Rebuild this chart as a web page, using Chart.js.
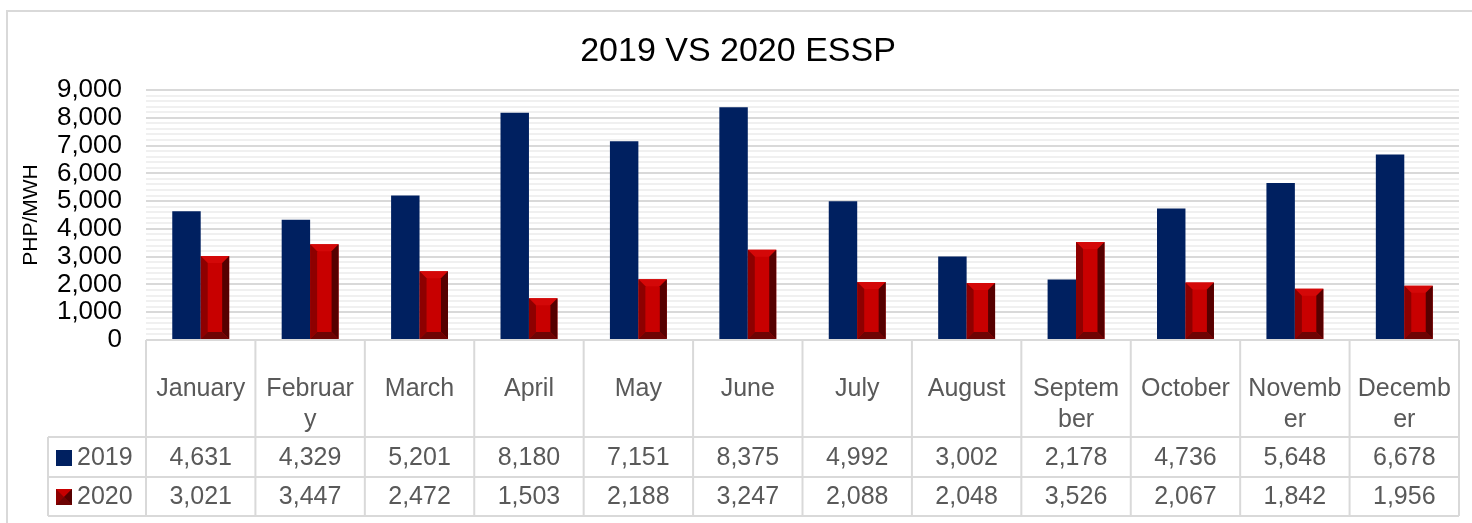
<!DOCTYPE html>
<html>
<head>
<meta charset="utf-8">
<title>2019 VS 2020 ESSP</title>
<script src="https://cdn.jsdelivr.net/npm/chart.js@4.4.1/dist/chart.umd.min.js"></script>
<style>
  html, body { margin: 0; padding: 0; background: #fff; }
  #wrap { width: 1472px; height: 523px; position: relative; }
</style>
</head>
<body>
<div id="wrap"><canvas id="esspChart" width="1472" height="523"></canvas></div>
<script>
// chart data
const monthLabels = [
  ["January"], ["Februar", "y"], ["March"], ["April"], ["May"], ["June"],
  ["July"], ["August"], ["Septem", "ber"], ["October"], ["Novemb", "er"], ["Decemb", "er"]
];
const seriesNames = ["2019", "2020"];
const values2019 = [4631, 4329, 5201, 8180, 7151, 8375, 4992, 3002, 2178, 4736, 5648, 6678];
const values2020 = [3021, 3447, 2472, 1503, 2188, 3247, 2088, 2048, 3526, 2067, 1842, 1956];
const yMax = 9000;
const yMajorStep = 1000;
const yMinorStep = 200;

const FONT = "'Liberation Sans', Arial, sans-serif";
const NAVY = "#002060";
const RED = "#C80000";
const fmt = v => v.toLocaleString("en-US");

// draws the bevelled look of the 2020 bars
function drawBevel(ctx, bar) {
  const l = bar.x - bar.width / 2, r = bar.x + bar.width / 2;
  const t = bar.y, b = bar.base;
  const bv = Math.min(7, (b - t) / 2, bar.width / 2);
  const poly = (pts, color) => {
    ctx.beginPath();
    ctx.moveTo(pts[0][0], pts[0][1]);
    pts.slice(1).forEach(p => ctx.lineTo(p[0], p[1]));
    ctx.closePath();
    ctx.fillStyle = color;
    ctx.fill();
  };
  poly([[l, t], [r, t], [r - bv, t + bv], [l + bv, t + bv]], "#D40808");
  poly([[l, t], [l + bv, t + bv], [l + bv, b - bv], [l, b]], "#8E0000");
  poly([[r, t], [r, b], [r - bv, b - bv], [r - bv, t + bv]], "#560000");
  poly([[l, b], [r, b], [r - bv, b - bv], [l + bv, b - bv]], "#6E0404");
}

const esspPlugin = {
  id: "esspExtras",
  beforeDraw(chart) {
    const ctx = chart.ctx;
    ctx.save();
    ctx.fillStyle = "#fff";
    ctx.fillRect(0, 0, chart.width, chart.height);
    ctx.strokeStyle = "#d9d9d9";
    ctx.lineWidth = 2;
    ctx.strokeRect(7, 11, chart.width + 20, chart.height + 20);
    ctx.restore();
  },
  afterDatasetsDraw(chart) {
    const ctx = chart.ctx;
    ctx.save();
    chart.getDatasetMeta(1).data.forEach(bar => drawBevel(ctx, bar));
    ctx.restore();
  },
  afterDraw(chart) {
    const ctx = chart.ctx;
    const area = chart.chartArea;
    const xs = chart.scales.x;
    const colW = (area.right - area.left) / monthLabels.length;
    const rowTop = area.bottom, row1 = 437, row2 = 477, rowEnd = 516;
    const keyLeft = 48;

    ctx.save();
    // title
    ctx.fillStyle = "#000";
    ctx.font = "34px " + FONT;
    ctx.textAlign = "center";
    ctx.textBaseline = "middle";
    ctx.fillText("2019 VS 2020 ESSP", 738, 52);

    // data table grid
    ctx.strokeStyle = "#d9d9d9";
    ctx.lineWidth = 2;
    ctx.beginPath();
    ctx.moveTo(area.left, rowTop); ctx.lineTo(area.right, rowTop);
    [row1, row2, rowEnd].forEach(y => { ctx.moveTo(keyLeft, y); ctx.lineTo(area.right, y); });
    for (let i = 0; i <= monthLabels.length; i++) {
      const x = area.left + i * colW;
      ctx.moveTo(x, rowTop); ctx.lineTo(x, rowEnd);
    }
    ctx.moveTo(keyLeft, row1); ctx.lineTo(keyLeft, rowEnd);
    ctx.stroke();

    // category labels and values
    ctx.fillStyle = "#595959";
    ctx.font = "25px " + FONT;
    monthLabels.forEach((lines, i) => {
      const cx = xs.getPixelForValue(i);
      lines.forEach((txt, k) => ctx.fillText(txt, cx, 389 + k * 31));
      ctx.fillText(fmt(values2019[i]), cx, 458);
      ctx.fillText(fmt(values2020[i]), cx, 497);
    });

    // series keys
    ctx.textAlign = "left";
    ctx.fillText(seriesNames[0], 77, 458);
    ctx.fillText(seriesNames[1], 77, 497);
    ctx.fillStyle = NAVY;
    ctx.fillRect(56, 450, 16, 16);
    const kx = 56, ky = 489, ks = 16, c = [kx + ks / 2, ky + ks / 2];
    const tri = (a, b, col) => {
      ctx.beginPath(); ctx.moveTo(a[0], a[1]); ctx.lineTo(b[0], b[1]); ctx.lineTo(c[0], c[1]);
      ctx.closePath(); ctx.fillStyle = col; ctx.fill();
    };
    ctx.fillStyle = "#8E0000";
    ctx.fillRect(kx, ky, ks, ks);
    tri([kx, ky], [kx + ks, ky], RED);
    tri([kx + ks, ky], [kx + ks, ky + ks], "#560000");
    tri([kx, ky + ks], [kx + ks, ky + ks], "#6E0404");
    ctx.restore();
  }
};

new Chart(document.getElementById("esspChart"), {
  type: "bar",
  data: {
    labels: monthLabels,
    datasets: [
      { label: seriesNames[0], data: values2019, backgroundColor: NAVY },
      { label: seriesNames[1], data: values2020, backgroundColor: RED }
    ]
  },
  options: {
    responsive: false,
    animation: false,
    events: [],
    categoryPercentage: 0.52,
    barPercentage: 1.0,
    layout: { padding: { top: 90, right: 13, left: 0, bottom: 0 } },
    plugins: {
      legend: { display: false },
      title: { display: false },
      tooltip: { enabled: false }
    },
    scales: {
      x: {
        ticks: { display: false },
        grid: { display: false },
        border: { display: false },
        afterFit: scale => { scale.height = 183; }
      },
      y: {
        min: 0,
        max: yMax,
        border: { display: false },
        grid: {
          drawTicks: false,
          lineWidth: 2,
          color: ctx => (ctx.tick && ctx.tick.value % yMajorStep === 0) ? "#d9d9d9" : "#f0f0f0"
        },
        ticks: {
          stepSize: yMinorStep,
          autoSkip: false,
          padding: 24,
          color: "#000",
          font: { family: FONT, size: 26 },
          callback: v => (v % yMajorStep === 0 ? fmt(v) : "")
        },
        title: {
          display: true,
          text: "PHP/MWH",
          color: "#000",
          font: { family: FONT, size: 21 },
          padding: { top: 19, bottom: 0 }
        },
        afterFit: scale => { scale.width = 146; }
      }
    }
  },
  plugins: [esspPlugin]
});
</script>
</body>
</html>
